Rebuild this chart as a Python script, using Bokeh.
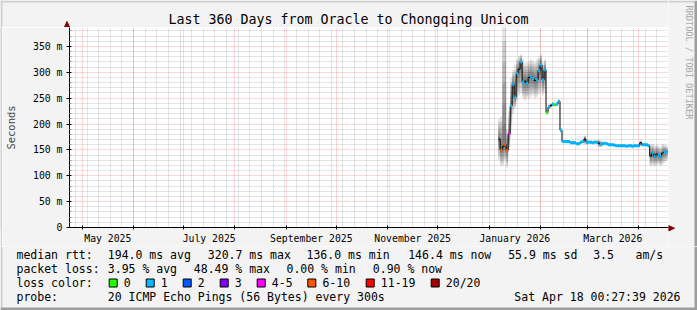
import math
import pandas as pd
from bokeh.plotting import figure
from bokeh.layouts import row, column
from bokeh.models import (Range1d, FixedTicker, DatetimeTickFormatter, CustomJSTickFormatter,
                          ColumnDataSource)
from bokeh.core.properties import value
from bokeh.embed import file_html
from bokeh.resources import INLINE

# ---------------- data ----------------
GRAPH_END = "2026-04-18 00:27:39"
SPAN_DAYS = 360
FIRST_ROW = "2026-01-06 12:00"
ROW_HOURS = 28.8  # consolidated row length (1.2 days)

median_ms = [171, 150, 156, 160, 149, 181, 235, 277, 252, 298,
             306, 320, 281, 283, 279, 290, 292, 288, 284, 285,
             303, 314, 285, 305, 222, 233, 236, 238, 237, 238,
             244, 188, 166, 166, 166, 166, 164, 164, 164, 162,
             162, 165, 166, 171, 165, 165, 165, 164, 165, 165,
             163, 161, 162, 163, 162, 160, 160, 160, 159, 158,
             158, 158, 158, 158, 157, 158, 158, 157, 158, 158,
             158, 164, 160, 160, 160, 158, 138, 144, 137, 142,
             140, 137, 144, 146, 146]
loss_class = ["", "6-10", "", "6-10", "6-10", "4-5", "1", "1", "1", "1",
              "", "1", "1", "", "1", "", "1", "1", "", "1",
              "1", "1", "1", "1", "0", "1", "", "1", "0", "1",
              "1", "1", "1", "1", "1", "1", "1", "1", "1", "1",
              "1", "1", "1", "", "1", "1", "1", "1", "1", "1",
              "", "1", "1", "1", "1", "1", "1", "1", "1", "1",
              "1", "1", "1", "1", "1", "1", "1", "1", "1", "1",
              "1", "", "1", "1", "1", "1", "", "1", "1", "",
              "1", "1", "", "1", "1"]
smoke_lo_ms = [130, 118, 120, 130, 115, 150, 190, 220, 230, 245,
               255, 260, 250, 245, 250, 250, 252, 255, 250, 252,
               258, 262, 255, 260, 218, 228, 231, 234, 234, 235,
               240, 184, 163, 163, 163, 163, 161, 161, 161, 159,
               159, 162, 163, 160, 161, 162, 162, 161, 162, 162,
               155, 155, 158, 160, 159, 157, 157, 157, 156, 155,
               155, 155, 155, 155, 154, 155, 155, 154, 155, 155,
               155, 158, 157, 157, 157, 155, 118, 120, 118, 120,
               122, 118, 122, 125, 128]
smoke_hi_ms = [210, 215, 400, 400, 190, 225, 290, 305, 315, 325,
               332, 335, 325, 318, 320, 322, 325, 322, 320, 325,
               330, 335, 320, 325, 228, 238, 240, 242, 240, 242,
               247, 192, 169, 169, 169, 169, 167, 167, 167, 165,
               165, 168, 170, 178, 169, 168, 168, 167, 168, 168,
               170, 168, 166, 166, 165, 163, 163, 163, 162, 161,
               161, 161, 161, 161, 160, 161, 161, 160, 161, 161,
               161, 167, 163, 163, 163, 161, 160, 162, 158, 160,
               158, 155, 162, 160, 158]

y_major = [0, 50, 100, 150, 200, 250, 300, 350]
y_minor_step = 10
loss_labels = ["0", "1", "2", "3", "4-5", "6-10", "11-19", "20/20"]
loss_colors = ["#26ff00", "#00b8ff", "#0059ff", "#7e00ff", "#ff00ff", "#ff5500", "#ff0000", "#a10000"]
median_stats = [("194.0", "ms avg"), ("320.7", "ms max"), ("136.0", "ms min"), ("146.4", "ms now"), ("55.9", "ms sd")]
am_s = "3.5"
loss_stats = [("3.95", "% avg"), ("48.49", "% max"), ("0.00", "% min"), ("0.90", "% now")]
title = "Last 360 Days from Oracle to Chongqing Unicom"
probe_text = "20 ICMP Echo Pings (56 Bytes) every 300s"
stamp_text = "Sat Apr 18 00:27:39 2026"
watermark = "RRDTOOL / TOBI OETIKER"

# ---------------- layout constants (canvas pixels) ----------------
FONT = "DejaVu Sans Mono"
W, H = 697, 310
FL, FR, FT, FB = 67, 668, 27, 228      # plot frame
LEG_TOP = 246                          # legend strip starts here
BG = "#f3f3f3"
SHADE_A, SHADE_B = "#cfcfcf", "#9e9e9e"
ARROW = "#800000"


def ms(ts):
    return pd.Timestamp(ts).value / 1e6


DAY = 86400000.0
end_ts = pd.Timestamp(GRAPH_END)
start_ts = end_ts - pd.Timedelta(days=SPAN_DAYS)
row_td = pd.Timedelta(hours=ROW_HOURS)
t0 = pd.Timestamp(FIRST_ROW)
t_left = [ms(t0 + i * row_td) for i in range(len(median_ms))]
t_right = [x + ROW_HOURS * 3600000.0 for x in t_left]


def deco_fig(x0, x1, y0, y1, color=BG):
    """A bare figure whose data space equals canvas pixels (y downwards)."""
    f = figure(width=x1 - x0, height=y1 - y0, output_backend="svg", toolbar_location=None,
               x_range=Range1d(x0, x1), y_range=Range1d(y1, y0),
               x_axis_location=None, y_axis_location=None,
               min_border=0, min_border_left=0, min_border_right=0, min_border_top=0, min_border_bottom=0,
               background_fill_color=color, border_fill_color=color)
    f.outline_line_color = None
    f.xgrid.visible = False
    f.ygrid.visible = False
    return f


def texts(f, items, size, align="left", angle=0.0, color="#000000"):
    src = ColumnDataSource(dict(x=[i[0] for i in items], y=[i[1] for i in items], t=[i[2] for i in items]))
    f.text(x="x", y="y", text="t", source=src, text_font=value(FONT), text_font_size=value(f"{size}px"),
           text_align=align, text_baseline="middle", angle=angle, text_color=color)


def rects(f, items):
    src = ColumnDataSource(dict(l=[i[0] for i in items], t=[i[1] for i in items], r=[i[2] for i in items],
                                b=[i[3] for i in items], c=[i[4] for i in items]))
    f.quad(left="l", right="r", top="t", bottom="b", fill_color="c", line_color=None, source=src)


# ---------------- main plot ----------------
p = figure(width=FR - 2, height=LEG_TOP - FT, x_axis_type="datetime", output_backend="svg",
           toolbar_location=None,
           x_range=Range1d(ms(start_ts) + 0.4 * DAY, ms(end_ts) + 1.0 * DAY),
           y_range=Range1d(0, (FB - FT) / 0.52),
           min_border_left=FL - 2, min_border_right=0, min_border_top=0, min_border_bottom=LEG_TOP - FB,
           background_fill_color="#ffffff", border_fill_color=BG)
p.outline_line_color = None

month_starts = pd.date_range("2025-05-01", "2026-04-01", freq="MS")
week_lines = pd.date_range(start_ts.normalize(), end_ts, freq="W-SUN")
y_minor = [v for v in range(y_minor_step, 390, y_minor_step) if v % 50]
p.xgrid.ticker = FixedTicker(ticks=[ms(m) for m in month_starts], minor_ticks=[ms(w) for w in week_lines])
p.ygrid.ticker = FixedTicker(ticks=y_major, minor_ticks=y_minor)
for g in (p.xgrid, p.ygrid):
    g.grid_line_color = "#ff0000"
    g.grid_line_alpha = 0.3
    g.grid_line_dash = "1 1"
    g.minor_grid_line_color = "#000000"
    g.minor_grid_line_alpha = 0.2
    g.minor_grid_line_dash = "1 1"

ms_list = list(month_starts) + [pd.Timestamp("2026-05-01")]
label_mid = [(ms(ms_list[i]) + ms(ms_list[i + 1])) / 2 for i in range(0, len(month_starts), 2)]
xa = p.xaxis[0]
xa.ticker = FixedTicker(ticks=label_mid, minor_ticks=[ms(m) for m in month_starts])
fmt = "%B %Y"
xa.formatter = DatetimeTickFormatter(years=fmt, months=fmt, days=fmt, hours=fmt, hourmin=fmt,
                                     minutes=fmt, minsec=fmt, seconds=fmt, milliseconds=fmt,
                                     microseconds=fmt)
xa.major_tick_in = 0
xa.major_tick_out = 0
xa.minor_tick_in = 2
xa.minor_tick_out = 2
xa.minor_tick_line_color = "#000000"
xa.major_label_standoff = 3
ya = p.yaxis[0]
ya.ticker = FixedTicker(ticks=y_major, minor_ticks=y_minor)
ya.formatter = CustomJSTickFormatter(code="return tick == 0 ? '0' : tick + ' m';")
ya.major_tick_in = 2
ya.major_tick_out = 3
ya.minor_tick_in = 2
ya.minor_tick_out = 0
ya.minor_tick_line_color = "#999999"
ya.major_label_standoff = 4
ya.axis_label = "Seconds"
ya.axis_label_text_font = FONT
ya.axis_label_text_font_style = "normal"
ya.axis_label_text_font_size = "10.5px"
ya.axis_label_standoff = 13
for a in (xa, ya):
    a.axis_line_color = "#000000"
    a.major_tick_line_color = "#000000"
    a.major_label_text_font = FONT
    a.major_label_text_font_size = "9.8px"
    a.major_label_text_color = "#000000"

# smoke: nested bands, darker towards the median
K = 6
qs = dict(left=[], right=[], bottom=[], top=[])
for i, m in enumerate(median_ms):
    for k in range(1, K + 1):
        f = k / K
        qs["left"].append(t_left[i])
        qs["right"].append(t_right[i])
        qs["bottom"].append(m - (m - smoke_lo_ms[i]) * f)
        qs["top"].append(m + (smoke_hi_ms[i] - m) * f)
p.quad(left="left", right="right", bottom="bottom", top="top", source=qs,
       fill_color="#000000", fill_alpha=0.11, line_color=None)

p.step(x=t_left + [t_right[-1]], y=median_ms + [median_ms[-1]], mode="after",
       line_color="#000000", line_width=1)

cmap = dict(zip(loss_labels, loss_colors))
seg = dict(x0=[], x1=[], y=[], c=[])
for i, c in enumerate(loss_class):
    if c:
        seg["x0"].append(t_left[i])
        seg["x1"].append(t_right[i])
        seg["y"].append(median_ms[i])
        seg["c"].append(cmap[c])
p.segment(x0="x0", x1="x1", y0="y", y1="y", color="c", source=seg, line_width=3)

# ---------------- surrounding pieces ----------------
# top strip with title and y-axis arrow
tf = deco_fig(0, FR, 0, FT)
rects(tf, [(0, 0, FR, 2, SHADE_A), (0, 0, 2, FT, SHADE_A)])
texts(tf, [(348, 19, title)], 13.3, align="center")
tf.segment(x0=[FL - 0.5], y0=[FT], x1=[FL - 0.5], y1=[23], line_color="#000000", line_width=1)
tf.patch(x=[FL - 3, FL + 2, FL - 0.5], y=[26.5, 26.5, 21], fill_color=ARROW, line_color=ARROW)

# left shade next to main plot
lf = deco_fig(0, 2, FT, LEG_TOP, SHADE_A)

# right strip with watermark and x-axis arrow
rf = deco_fig(FR, W, 0, LEG_TOP)
rects(rf, [(FR, 0, W - 3, 2, SHADE_A), (W - 3, 0, W, LEG_TOP, SHADE_B)])
texts(rf, [(688, 5, watermark)], 8.6, angle=-math.pi / 2, color="#a8a8a8")
rf.patch(x=[FR, FR, 674], y=[FB - 3, FB + 2.5, FB - 0.3], fill_color=ARROW, line_color=ARROW)

# legend
lg = deco_fig(0, W, LEG_TOP, H)
rects(lg, [(0, LEG_TOP, 2, H, SHADE_A), (W - 3, LEG_TOP, W, H, SHADE_B), (0, H - 3, W, H, SHADE_B)])
LS = 11.5
rows_y = [254.3, 268.3, 282.3, 296.0]
items = [(16, rows_y[0], "median rtt:")]
items += [(x, rows_y[0], f"{v} {u}") for (v, u), x in zip(median_stats, [107.3, 207.3, 306.0, 407.7, 507.7])]
items += [(592.7, rows_y[0], am_s), (635, rows_y[0], "am/s")]
items += [(16, rows_y[1], "packet loss:")]
items += [(x, rows_y[1], f"{v} {u}") for (v, u), x in zip(loss_stats, [107.3, 193.3, 286.0, 372.3])]
items += [(16, rows_y[2], "loss color:")]
box_x = [108.7, 145.7, 182.7, 219.7, 256.7, 307.3, 365.7, 430.7]
items += [(bx + 14.6, rows_y[2], lab) for lab, bx in zip(loss_labels, box_x)]
items += [(16, rows_y[3], "probe:"), (107.3, rows_y[3], probe_text)]
texts(lg, items, LS)
texts(lg, [(680, rows_y[3], stamp_text)], LS, align="right")
bsrc = ColumnDataSource(dict(l=box_x, r=[b + 8 for b in box_x], t=[278.5] * len(box_x),
                             b=[286.5] * len(box_x), c=loss_colors))
lg.quad(left="l", right="r", top="t", bottom="b", fill_color="c", line_color="#000000", line_width=1,
        source=bsrc)

layout = column(row(column(tf, row(lf, p)), rf), lg)
open("out.html", "w").write(file_html(layout, INLINE))
